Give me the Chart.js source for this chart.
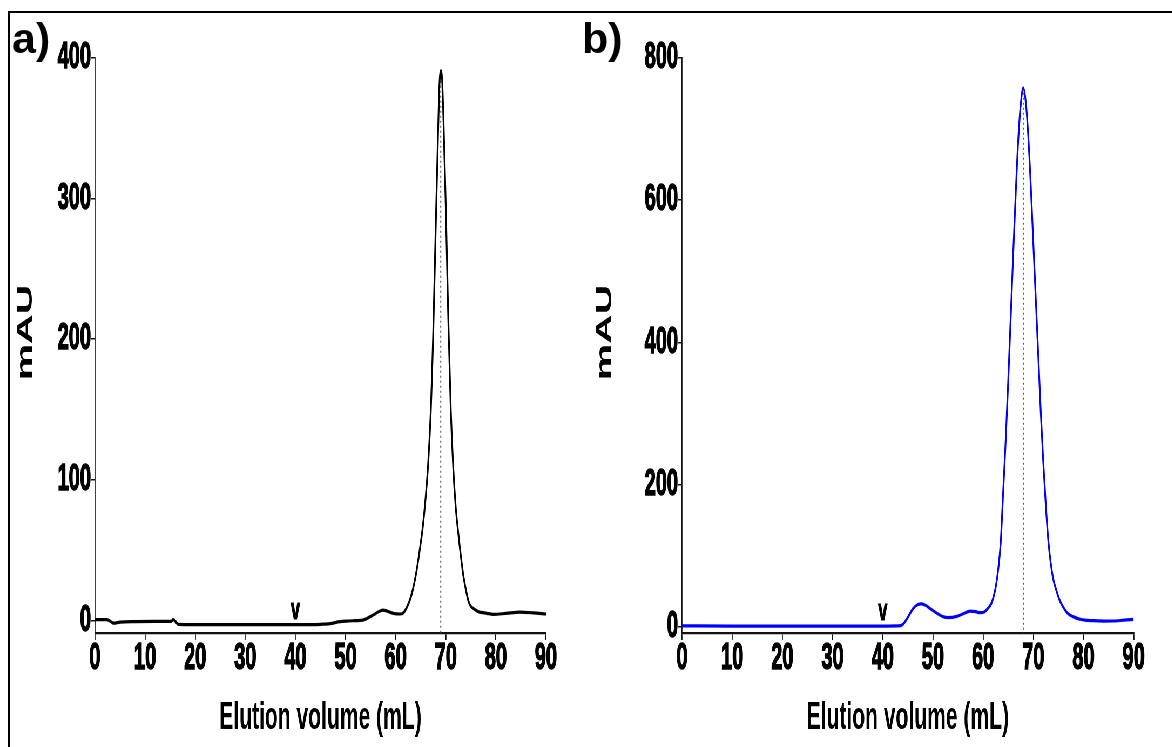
<!DOCTYPE html>
<html>
<head>
<meta charset="utf-8">
<script src="https://cdn.jsdelivr.net/npm/chart.js@4.4.0/dist/chart.umd.min.js"></script>
<style>
  html, body { margin: 0; padding: 0; background: #fff; width: 1172px; height: 747px; overflow: hidden; }
  #stage { position: absolute; left: 0; top: 0; width: 2170px; height: 747px; transform: scaleX(0.54); transform-origin: 0 0; }
  #boxA { position: absolute; left: 0; top: 0; width: 1090px; height: 747px; }
  #boxB { position: absolute; left: 1090px; top: 0; width: 1080px; height: 747px; }
  #frame { position: absolute; left: 8px; top: 11px; width: 1200px; height: 800px; border-top: 2px solid #000; border-left: 2px solid #000; pointer-events: none; }
  .panel-tag { position: absolute; font: bold 43px "Liberation Sans", Arial, sans-serif; line-height: 1; color: #000; }
</style>
</head>
<body>
<div id="stage">
  <div id="boxA"><canvas id="chartA"></canvas></div>
  <div id="boxB"><canvas id="chartB"></canvas></div>
</div>
<div id="frame"></div>
<div class="panel-tag" style="left:12px; top:17px;">a)</div>
<div class="panel-tag" style="left:582px; top:17px;">b)</div>
<script>
// Elution profiles (volume in mL, absorbance in mAU)
const volumeA = [0, 2.3, 3.0, 3.7, 5.0, 8.0, 12.0, 15.2, 15.6, 16.0, 16.6, 20, 25, 30, 35, 40, 43.5, 45.0, 46.9, 48.9,
  50.2, 52.0, 53.5, 55.5, 56.8, 57.5, 58.3, 59.5, 60.9, 61.6, 62.2, 62.8, 63.3, 63.8, 64.3, 64.8, 65.4, 66.0, 66.5, 67.0,
  67.5, 68.0, 68.5, 68.75, 69.0, 69.25, 69.5, 70.0, 70.5, 71.0, 71.5, 72.0, 72.5, 73.0, 73.5, 74.0, 74.5, 75.0, 75.5, 76.5,
  78.2, 79.5, 82.0, 84.8, 87.5, 90];
const mauA = [0.5, 0.5, -0.5, -2.0, -1.2, -0.9, -0.8, -0.8, 0.6, -0.6, -2.8, -3.0, -3.1, -3.1, -3.0, -3.0, -3.0, -2.8, -2.3, -0.9,
  -0.5, -0.2, 0.2, 3.8, 6.5, 7.2, 6.6, 5.0, 4.5, 5.5, 9.0, 14, 20, 28, 38, 50, 66, 88, 112, 148,
  205, 280, 352, 382, 391, 386, 362, 295, 215, 150, 108, 80, 62, 46, 32, 22, 14, 10, 8.5, 6.2,
  5.0, 4.3, 4.9, 5.8, 5.3, 4.5];

const volumeB = [0, 10, 20, 30, 40, 43.0, 44.0, 45.0, 46.0, 47.0, 47.6, 48.5, 49.5, 50.8, 52.0, 53.0, 54.8, 56.0, 57.4, 58.5,
  59.4, 60.3, 61.0, 61.6, 62.0, 62.5, 63.0, 63.5, 64.0, 64.5, 65.0, 65.5, 66.0, 66.5, 67.0, 67.5, 68.0, 68.5, 69.0, 69.5,
  70.0, 70.5, 71.0, 71.5, 72.0, 72.5, 73.0, 73.5, 74.0, 74.6, 75.2, 75.9, 76.8, 77.9, 79.5, 81.9, 84.0, 85.9, 88.0, 90];
const mauB = [1.0, 0.8, 0.8, 0.8, 0.8, 1.0, 3, 13, 25, 31, 32, 30, 25, 18.7, 14, 12.5, 14.5, 18, 21.9, 21,
  19.6, 21, 26, 32, 40, 55, 80, 118, 190, 262, 345, 435, 525, 610, 685, 735, 758, 738, 690, 620,
  540, 460, 380, 300, 230, 170, 120, 88, 66, 51, 38, 28, 19, 14, 10, 8.3, 7.8, 7.9, 9, 10.2];

const volumeTicks = [0, 10, 20, 30, 40, 50, 60, 70, 80, 90];
const mauTicksA = [0, 100, 200, 300, 400];
const mauTicksB = [0, 200, 400, 600, 800];
const injectionVolume = 40;
const xTitle = 'Elution volume (mL)';
const yTitle = 'mAU';

const FONT = '"Liberation Sans", Arial, sans-serif';
const Y_MIN = -9;

function toPoints(xs, ys) { return xs.map((x, i) => ({ x: x, y: ys[i] })); }
function peakOf(xs, ys) {
  let k = 0;
  ys.forEach((v, i) => { if (v > ys[k]) k = i; });
  return { x: xs[k], y: ys[k] };
}
function valueAt(xs, ys, x) {
  for (let i = 1; i < xs.length; i++) {
    if (xs[i] >= x) {
      const t = (x - xs[i - 1]) / (xs[i] - xs[i - 1]);
      return ys[i - 1] + t * (ys[i] - ys[i - 1]);
    }
  }
  return ys[ys.length - 1];
}

// "v" mark above the trace at the injection volume, plus the rotated y-axis caption
const panelText = {
  id: 'panelText',
  afterDatasetsDraw(chart, args, opts) {
    const { ctx, scales, chartArea } = chart;
    const x = scales.x.getPixelForValue(opts.volume);
    const y = scales.y.getPixelForValue(opts.level) - 6;
    ctx.save();
    ctx.font = 'bold 30px ' + FONT;
    ctx.fillStyle = '#000';
    ctx.strokeStyle = '#000';
    ctx.lineWidth = 1.2;
    ctx.textAlign = 'center';
    ctx.textBaseline = 'alphabetic';
    ctx.fillText('v', x, y);
    ctx.strokeText('v', x, y);

    ctx.translate(opts.captionX, (chartArea.top + chartArea.bottom) / 2 - 13);
    ctx.rotate(-Math.PI / 2);
    ctx.font = 'bold 41px ' + FONT;
    ctx.textBaseline = 'middle';
    ctx.fillText(yTitle, 0, 0);
    ctx.restore();
  }
};

const tickFont = { family: FONT, weight: 'bold', size: 37, lineHeight: 1 };

function makeChart(id, xs, ys, color, yMax, yTicks, axisLeft, padRight, captionX) {
  const peak = peakOf(xs, ys);
  return new Chart(document.getElementById(id), {
    type: 'line',
    data: {
      datasets: [
        { data: toPoints(xs, ys), borderColor: color, borderWidth: 3.2, pointRadius: 0,
          cubicInterpolationMode: 'monotone', fill: false },
        { data: [{ x: peak.x, y: peak.y }, { x: peak.x, y: Y_MIN }], borderColor: '#555',
          borderWidth: 2, borderDash: [2, 3], pointRadius: 0, fill: false }
      ]
    },
    options: {
      responsive: true,
      maintainAspectRatio: false,
      animation: false,
      layout: { padding: { left: 0, right: padRight, top: 58, bottom: 0 } },
      plugins: {
        legend: { display: false },
        tooltip: { enabled: false },
        panelText: { volume: injectionVolume, level: valueAt(xs, ys, injectionVolume), captionX: captionX }
      },
      scales: {
        x: {
          type: 'linear', min: 0, max: 90,
          afterBuildTicks: s => { s.ticks = volumeTicks.map(v => ({ value: v })); },
          afterFit: s => { s.height = 114; },
          border: { display: true, color: '#111', width: 2.2 },
          grid: { drawOnChartArea: false, drawTicks: true, tickLength: 7, color: '#111', lineWidth: 1.8 },
          ticks: { color: '#000', font: tickFont, textStrokeColor: '#000', textStrokeWidth: 1.4,
                   padding: 0, maxRotation: 0, autoSkip: false },
          title: { display: true, text: xTitle, color: '#000',
                   font: { family: FONT, weight: 'bold', size: 39, lineHeight: 1.2 },
                   padding: { top: 0, bottom: 5 } }
        },
        y: {
          type: 'linear', min: Y_MIN, max: yMax,
          afterBuildTicks: s => { s.ticks = yTicks.map(v => ({ value: v })); },
          afterFit: s => { s.width = axisLeft; },
          border: { display: true, color: '#111', width: 1.8 },
          grid: { drawOnChartArea: false, drawTicks: true, tickLength: 7.4, color: '#111', lineWidth: 1.5 },
          ticks: { color: '#000', font: tickFont, textStrokeColor: '#000', textStrokeWidth: 1.4, padding: 0 },
          title: { display: false }
        }
      }
    },
    plugins: [panelText]
  });
}

makeChart('chartA', volumeA, mauA, '#000000', 400, mauTicksA, 175.9, 78.9, 47.5);
makeChart('chartB', volumeB, mauB, '#0000ff', 800, mauTicksB, 173, 70.6, 30.5);
</script>
</body>
</html>
